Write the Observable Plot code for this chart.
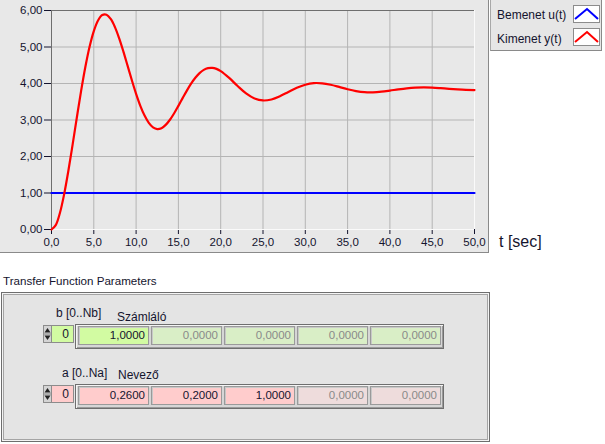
<!DOCTYPE html>
<html>
<head>
<meta charset="utf-8">
<script src="https://cdn.jsdelivr.net/npm/d3@7"></script>
<script src="https://cdn.jsdelivr.net/npm/@observablehq/plot@0.6"></script>
<style>
  html, body { margin: 0; padding: 0; background: #ffffff; }
  #root { position: relative; width: 605px; height: 444px; overflow: hidden; background: #ffffff;
          font-family: "Liberation Sans", Arial, sans-serif; color: #14142e; }
  .abs { position: absolute; white-space: nowrap; }
  #panel { position: absolute; left: 0; top: 0; width: 488px; height: 252px; background: #e8e8e8;
           border-right: 1px solid #8a8a8a; border-bottom: 1px solid #8a8a8a; }
  #legend { position: absolute; left: 490px; top: 0; width: 110px; height: 50px; background: #e6e6e6;
            border-left: 1px solid #a8a8a8; border-right: 1px solid #8a8a8a; border-bottom: 1px solid #8a8a8a; }
  .lgtext { position: absolute; font-size: 12px; line-height: 14px; }
  .swatch { position: absolute; width: 25px; height: 16px; background: #ffffff; border: 1px solid #8c8c8c; }
  .lbl { font-size: 12px; line-height: 14px; }
  #cluster { position: absolute; left: 1px; top: 292px; width: 487px; height: 148px; background: #e4e4e4;
             border: 1px solid #6e6e6e; box-shadow: inset 0 0 0 1px #f4f4f4, inset 0 0 0 2px #a4a4a4; }
  .frame { position: absolute; height: 23px; background: #d6d6d6; border: 1px solid #6e6e6e;
           box-shadow: inset 1px 1px 0 #f4f4f4, inset -1px -1px 0 #9a9a9a; }
  .cell { position: absolute; height: 17px; width: 69px; border: 1px solid #9a9a9a;
          box-shadow: inset 1px 1px 0 #c8c8c8; font-size: 11.5px; line-height: 17px; text-align: right;
          padding-right: 0px; box-sizing: content-box; }
  .cell span { position: absolute; right: 3px; top: 0; }
  .idx { position: absolute; width: 21px; height: 16px; border: 1px solid #8c8c8c; font-size: 12px; line-height: 16px; }
  .idx span { position: absolute; right: 4px; top: 0; }
  .arrows { position: absolute; width: 7px; height: 16px; border: 1px solid #8c8c8c; background: #d4d4d4; }
</style>
</head>
<body>
<div id="root">
  <div id="panel"></div>
  <div id="legend"></div>
  <div class="abs" id="xtitle" style="left:499px; top:233px; font-size:16px; line-height:18px;"></div>
  <div class="abs lbl" id="clusterTitle" style="left:3px; top:274px; font-size:11.6px;"></div>
  <div id="cluster"></div>
</div>
<script>
// ---------------- data ----------------
const tOut = [0, 0.5, 1, 1.5, 2, 2.5, 3, 3.5, 4, 4.5, 5, 5.5, 6, 6.5, 7, 7.5, 8, 8.5, 9, 9.5,
  10, 10.5, 11, 11.5, 12, 12.5, 13, 13.5, 14, 14.5, 15, 15.5, 16, 16.5, 17, 17.5, 18, 18.5, 19, 19.5,
  20, 21, 22, 23, 24, 25, 26, 27, 28, 29, 30, 31, 32, 33, 34, 35, 36, 37, 38, 39, 40,
  41, 42, 43, 44, 45, 46, 47, 48, 49, 50];
const yOut = [0, 0.120, 0.458, 0.973, 1.615, 2.333, 3.076, 3.796, 4.450, 5.005, 5.436, 5.728, 5.876, 5.886, 5.769, 5.545, 5.237, 4.874, 4.482, 4.088,
  3.716, 3.388, 3.120, 2.921, 2.799, 2.752, 2.777, 2.866, 3.007, 3.185, 3.388, 3.599, 3.806, 3.995, 4.157, 4.285, 4.373, 4.421, 4.429, 4.400,
  4.340, 4.153, 3.930, 3.727, 3.589, 3.535, 3.563, 3.651, 3.768, 3.881, 3.967, 4.011, 4.005, 3.965, 3.906, 3.843, 3.793, 3.763, 3.759, 3.775, 3.805,
  3.839, 3.868, 3.887, 3.894, 3.888, 3.873, 3.855, 3.839, 3.827, 3.821];
const tIn = [0, 50];
const uIn = [1, 1];

const xTicks = [0, 5, 10, 15, 20, 25, 30, 35, 40, 45, 50];
const xTickLabels = ["0,0", "5,0", "10,0", "15,0", "20,0", "25,0", "30,0", "35,0", "40,0", "45,0", "50,0"];
const yTicks = [0, 1, 2, 3, 4, 5, 6];
const yTickLabels = ["0,00", "1,00", "2,00", "3,00", "4,00", "5,00", "6,00"];

const seriesNames = ["Bemenet u(t)", "Kimenet y(t)"];
const seriesColors = ["#0000ff", "#ff0000"];
const xTitle = "t [sec]";

const clusterTitle = "Transfer Function Parameters";
const numIndexLabel = "b [0..Nb]";
const numName = "Számláló";
const numValues = ["1,0000", "0,0000", "0,0000", "0,0000", "0,0000"];
const numActive = 1;
const denIndexLabel = "a [0..Na]";
const denName = "Nevező";
const denValues = ["0,2600", "0,2000", "1,0000", "0,0000", "0,0000"];
const denActive = 3;
const indexValue = "0";

// ---------------- chart ----------------
const outData = tOut.map((t, i) => ({t, v: yOut[i]}));
const inData = tIn.map((t, i) => ({t, v: uIn[i]}));

const chart = Plot.plot({
  width: 488,
  height: 252,
  marginLeft: 51,
  marginRight: 14,
  marginTop: 10,
  marginBottom: 23,
  style: {background: "transparent", fontFamily: "Liberation Sans, Arial, sans-serif", fontSize: "11.5px", color: "#14142e", overflow: "visible"},
  x: {domain: [0, 50], ticks: 10, tickFormat: d => xTickLabels[xTicks.indexOf(d)], tickSize: 5, tickPadding: 3, label: null},
  y: {domain: [0, 6], ticks: 6, tickFormat: d => yTickLabels[yTicks.indexOf(d)], tickSize: 7, tickPadding: 2, label: null},
  marks: [
    Plot.ruleX(xTicks, {stroke: "#b4b4b4"}),
    Plot.ruleY(yTicks, {stroke: "#b4b4b4"}),
    Plot.ruleX([xTicks[xTicks.length - 1]], {stroke: "#fafafa"}),
    Plot.ruleY([yTicks[0]], {stroke: "#fafafa"}),
    Plot.ruleX([xTicks[0]], {stroke: "#6e6e6e"}),
    Plot.ruleY([yTicks[yTicks.length - 1]], {stroke: "#6e6e6e"}),
    Plot.line(inData, {x: "t", y: "v", stroke: seriesColors[0], strokeWidth: 2.2}),
    Plot.line(outData, {x: "t", y: "v", stroke: seriesColors[1], strokeWidth: 2.2, curve: "catmull-rom"})
  ]
});
document.getElementById("panel").appendChild(chart);

// ---------------- legend ----------------
const legend = document.getElementById("legend");
seriesNames.forEach((name, i) => {
  const t = document.createElement("div");
  t.className = "lgtext";
  t.style.left = "6px";
  t.style.top = (8 + i * 24) + "px";
  t.textContent = name;
  legend.appendChild(t);
  const sw = document.createElement("div");
  sw.className = "swatch";
  sw.style.left = "82px";
  sw.style.top = (5 + i * 23) + "px";
  sw.innerHTML = `<svg width="25" height="16" style="display:block"><polyline points="1,13 13,3 24,13" fill="none" stroke="${seriesColors[i]}" stroke-width="2"/></svg>`;
  legend.appendChild(sw);
});

document.getElementById("xtitle").textContent = xTitle;
document.getElementById("clusterTitle").textContent = clusterTitle;

// ---------------- parameter cluster ----------------
const root = document.getElementById("root");
function addText(txt, left, top) {
  const d = document.createElement("div");
  d.className = "abs lbl";
  d.style.left = left + "px";
  d.style.top = top + "px";
  d.textContent = txt;
  root.appendChild(d);
}
function addRow(values, active, yTop, activeColor, paleColor) {
  // index control
  const ar = document.createElement("div");
  ar.className = "arrows";
  ar.style.left = "43px"; ar.style.top = (yTop + 1) + "px";
  ar.innerHTML = `<svg width="7" height="16" style="display:block"><path d="M0.5,6.5 L3.5,2 L6.5,6.5Z" fill="#222"/><path d="M0.5,9.5 L3.5,14 L6.5,9.5Z" fill="#222"/><line x1="0" y1="8" x2="7" y2="8" stroke="#888"/></svg>`;
  root.appendChild(ar);
  const ix = document.createElement("div");
  ix.className = "idx";
  ix.style.left = "51px"; ix.style.top = (yTop + 1) + "px";
  ix.style.background = activeColor;
  ix.innerHTML = `<span>${indexValue}</span>`;
  root.appendChild(ix);
  // array frame
  const fr = document.createElement("div");
  fr.className = "frame";
  fr.style.left = "75px"; fr.style.top = yTop + "px";
  fr.style.width = "367px";
  root.appendChild(fr);
  values.forEach((v, i) => {
    const c = document.createElement("div");
    c.className = "cell";
    c.style.left = (78 + i * 73) + "px";
    c.style.top = (yTop + 2) + "px";
    c.style.background = i < active ? activeColor : paleColor;
    c.style.color = i < active ? "#14142e" : "#8a8a8a";
    c.innerHTML = `<span>${v}</span>`;
    root.appendChild(c);
  });
}
addText(numIndexLabel, 56, 306);
addText(numName, 117, 310);
addRow(numValues, numActive, 324, "#d2fba2", "#d9eec6");
addText(denIndexLabel, 62, 366);
addText(denName, 118, 368);
addRow(denValues, denActive, 384, "#ffcccc", "#eedcdc");
</script>
</body>
</html>
